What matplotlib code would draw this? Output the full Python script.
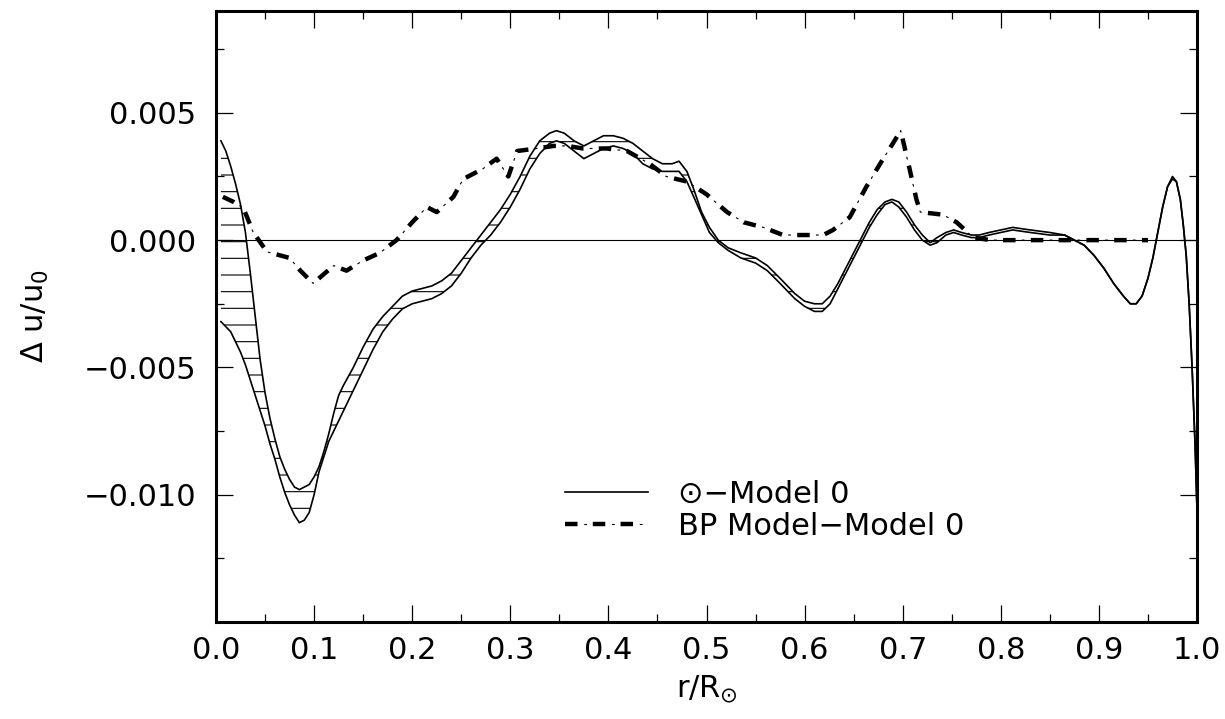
import numpy as np
import matplotlib
matplotlib.use('Agg')
from matplotlib import pyplot as plt
from matplotlib.ticker import FixedLocator, MultipleLocator, FormatStrFormatter, FuncFormatter
from matplotlib.legend_handler import HandlerTuple

plt.rcParams['font.family'] = ['DejaVu Sans']
plt.rcParams['mathtext.fontset'] = 'dejavusans'
plt.rcParams['mathtext.default'] = 'regular'
plt.rcParams['lines.scale_dashes'] = False
plt.rcParams['hatch.linewidth'] = 0.8

# sun - model 0, upper and lower edge of the error band
r_sun = [0.005, 0.010, 0.015, 0.020, 0.025, 0.030, 0.035, 0.040, 0.045, 0.050,
         0.055, 0.060, 0.065, 0.070, 0.075, 0.080, 0.085, 0.090, 0.095, 0.100,
         0.105, 0.110, 0.115, 0.120, 0.125, 0.130, 0.140, 0.150, 0.160, 0.170,
         0.180, 0.190, 0.200, 0.210, 0.220, 0.230, 0.240, 0.250, 0.260, 0.270,
         0.280, 0.290, 0.300, 0.310, 0.320, 0.330, 0.340, 0.347, 0.355, 0.365,
         0.375, 0.385, 0.395, 0.405, 0.415, 0.425, 0.435, 0.445, 0.455, 0.465,
         0.472, 0.480, 0.487, 0.495, 0.503, 0.512, 0.522, 0.535, 0.550, 0.562,
         0.575, 0.590, 0.600, 0.610, 0.618, 0.626, 0.634, 0.642, 0.650, 0.658,
         0.666, 0.674, 0.682, 0.689, 0.696, 0.704, 0.712, 0.720, 0.728, 0.735,
         0.744, 0.752, 0.760, 0.770, 0.778, 0.788, 0.800, 0.812, 0.830, 0.850,
         0.865, 0.875, 0.885, 0.895, 0.905, 0.915, 0.925, 0.932, 0.938, 0.944,
         0.950, 0.955, 0.960, 0.965, 0.970, 0.975, 0.979, 0.983, 0.986, 0.989,
         0.992, 0.995, 0.998, 1.000]
sun_hi = [0.0039, 0.0035, 0.0029, 0.0022, 0.0014, 0.0003, -0.0013, -0.0030, -0.0047, -0.0060,
          -0.0070, -0.0078, -0.0085, -0.0090, -0.0094, -0.0097, -0.0098, -0.0097, -0.0096, -0.0093,
          -0.0089, -0.0083, -0.0076, -0.0068, -0.0061, -0.0057, -0.0050, -0.0042, -0.0035, -0.0030,
          -0.0026, -0.0022, -0.0020, -0.0019, -0.0018, -0.0016, -0.0013, -0.0008, -0.0003, 0.0002,
          0.0007, 0.0012, 0.0018, 0.0025, 0.0033, 0.0039, 0.0042, 0.0043, 0.0042, 0.0039,
          0.0037, 0.0039, 0.0041, 0.0041, 0.0040, 0.0038, 0.0035, 0.0032, 0.0030, 0.0030,
          0.0031, 0.0027, 0.0020, 0.0011, 0.0005, 0.0000, -0.0003, -0.0005, -0.0007, -0.0010,
          -0.0015, -0.0021, -0.0024, -0.0025, -0.0025, -0.0022, -0.0017, -0.0011, -0.0005, 0.0001,
          0.0007, 0.0012, 0.0015, 0.0016, 0.0015, 0.0011, 0.0006, 0.0002, -0.0001, 0.0001,
          0.0003, 0.0004, 0.0003, 0.0002, 0.0002, 0.0003, 0.0004, 0.0005, 0.0004, 0.0003,
          0.0002, 0.0000, -0.0002, -0.0006, -0.0011, -0.0017, -0.0022, -0.0025, -0.0025, -0.0022,
          -0.0015, -0.0007, 0.0003, 0.0013, 0.0021, 0.0025, 0.0023, 0.0016, 0.0006, -0.0006,
          -0.0025, -0.0050, -0.0080, -0.0106]
sun_lo = [-0.0032, -0.0034, -0.0036, -0.0040, -0.0044, -0.0049, -0.0055, -0.0061, -0.0067, -0.0073,
          -0.0080, -0.0086, -0.0093, -0.0099, -0.0104, -0.0108, -0.0111, -0.0110, -0.0107, -0.0100,
          -0.0091, -0.0085, -0.0079, -0.0075, -0.0071, -0.0067, -0.0059, -0.0051, -0.0043, -0.0036,
          -0.0031, -0.0027, -0.0025, -0.0024, -0.0023, -0.0021, -0.0018, -0.0013, -0.0007, -0.0002,
          0.0002, 0.0007, 0.0013, 0.0020, 0.0028, 0.0034, 0.0038, 0.0039, 0.0038, 0.0035,
          0.0032, 0.0034, 0.0036, 0.0037, 0.0036, 0.0034, 0.0030, 0.0028, 0.0027, 0.0027,
          0.0027, 0.0023, 0.0017, 0.0010, 0.0003, -0.0001, -0.0004, -0.0007, -0.0009, -0.0012,
          -0.0017, -0.0023, -0.0026, -0.0028, -0.0028, -0.0025, -0.0019, -0.0013, -0.0007, -0.0001,
          0.0005, 0.0010, 0.0014, 0.0015, 0.0013, 0.0009, 0.0004, 0.0000, -0.0002, -0.0001,
          0.0002, 0.0003, 0.0002, 0.0001, 0.0001, 0.0002, 0.0003, 0.0004, 0.0003, 0.0002,
          0.0002, 0.0000, -0.0002, -0.0006, -0.0011, -0.0017, -0.0022, -0.0025, -0.0025, -0.0022,
          -0.0015, -0.0007, 0.0003, 0.0013, 0.0021, 0.0024, 0.0023, 0.0016, 0.0006, -0.0006,
          -0.0025, -0.0050, -0.0080, -0.0106]

# BP model - model 0
r_bp = [0.007, 0.018, 0.028, 0.038, 0.052, 0.075, 0.086, 0.099, 0.120, 0.133,
        0.150, 0.167, 0.184, 0.200, 0.215, 0.225, 0.242, 0.252, 0.272, 0.286,
        0.298, 0.307, 0.327, 0.344, 0.358, 0.374, 0.398, 0.419, 0.442, 0.459,
        0.480, 0.500, 0.521, 0.538, 0.558, 0.578, 0.600, 0.619, 0.629, 0.646,
        0.663, 0.677, 0.690, 0.698, 0.707, 0.714, 0.718, 0.741, 0.755, 0.772,
        0.790, 0.950]
bp = [0.0017, 0.0015, 0.00125, 0.0003, -0.00046, -0.0007, -0.0012, -0.0017, -0.0010, -0.0012,
      -0.0008, -0.0005, 0.0000, 0.0007, 0.0013, 0.0011, 0.0017, 0.0024, 0.0028, 0.0032,
      0.0025, 0.0035, 0.0036, 0.0037, 0.0037, 0.0036, 0.0036, 0.0035, 0.0030, 0.0025,
      0.0023, 0.0018, 0.0011, 0.0007, 0.0005, 0.0002, 0.0002, 0.0002, 0.0004, 0.0009,
      0.0021, 0.0030, 0.0038, 0.0043, 0.0028, 0.0016, 0.0011, 0.0010, 0.0007, 0.0001,
      0.0000, 0.0000]

y_major = [-0.010, -0.005, 0.000, 0.005]

fig = plt.figure(figsize=(12.25, 7.19), dpi=100)
ax = fig.add_axes([216/1225, 97/719, 981/1225, 611/719])

ax.axhline(0, color='k', lw=0.8)
ax.fill_between(r_sun, sun_lo, sun_hi, facecolor='none', edgecolor='k', linewidth=0, hatch='-')
l_sun, = ax.plot(r_sun, sun_hi, 'k', lw=1.2)
ax.plot(r_sun, sun_lo, 'k', lw=1.2)

bp_thick, = ax.plot(r_bp, bp, 'k', lw=3.2, linestyle=(0, (9, 11)), dash_capstyle='butt')
bp_thin, = ax.plot(r_bp, bp, 'k', lw=0.8, linestyle=(6.5, (2, 18)), dash_capstyle='butt')

ax.set_xlim(0, 1)
ax.set_ylim(-0.015, 0.009)
ax.xaxis.set_major_locator(MultipleLocator(0.1))
ax.xaxis.set_minor_locator(MultipleLocator(0.05))
ax.xaxis.set_major_formatter(FormatStrFormatter('%.1f'))
ax.yaxis.set_major_locator(FixedLocator(y_major))
ax.yaxis.set_minor_locator(MultipleLocator(0.0025))
ax.yaxis.set_major_formatter(FuncFormatter(lambda v, p: ('%.3f' % v).replace('-', '\u2212')))
ax.tick_params(which='both', direction='in', top=True, right=True, width=0.9, labelsize=22)
ax.tick_params(which='major', length=12)
ax.tick_params(which='minor', length=6)
ax.tick_params(axis='x', pad=10)
ax.tick_params(axis='y', pad=14)
for s in ax.spines.values():
    s.set_linewidth(2.2)

ax.set_xlabel(r'r/R$_{\odot}$', fontsize=22, labelpad=6)
ax.set_ylabel(r'$\Delta$ u/u$_0$', fontsize=22, labelpad=24)

ax.legend([l_sun, (bp_thick, bp_thin)], ['\u2299\u2212Model 0', 'BP Model\u2212Model 0'],
          handler_map={tuple: HandlerTuple(ndivide=1)},
          loc='upper left', bbox_to_anchor=(565/1225, 1 - 480/719), bbox_transform=fig.transFigure,
          frameon=False, fontsize=22, handlelength=2.7, handletextpad=1.0,
          labelspacing=0.1, borderpad=0, borderaxespad=0)

plt.savefig('out.png', dpi=100)
